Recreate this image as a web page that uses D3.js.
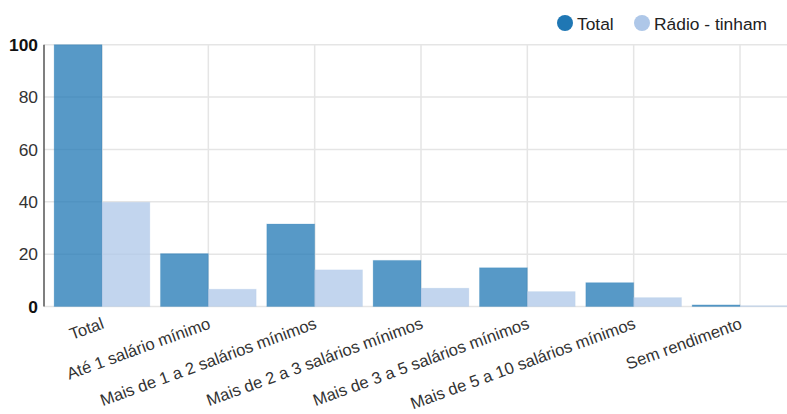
<!DOCTYPE html>
<html>
<head>
<meta charset="utf-8">
<script src="https://cdn.jsdelivr.net/npm/d3@7"></script>
<style>
  html, body { margin: 0; padding: 0; background: #fff; }
  svg { display: block; font-family: "Liberation Sans", Arial, sans-serif; }
</style>
</head>
<body>
<svg id="chart" width="787" height="414"></svg>
<script>
const categories = [
  "Total",
  "Até 1 salário mínimo",
  "Mais de 1 a 2 salários mínimos",
  "Mais de 2 a 3 salários mínimos",
  "Mais de 3 a 5 salários mínimos",
  "Mais de 5 a 10 salários mínimos",
  "Sem rendimento"
];
const seriesNames = ["Total", "Rádio - tinham"];
const totalValues = [100, 20.2, 31.5, 17.6, 14.8, 9.1, 0.6];
const radioValues = [39.8, 6.6, 14.0, 7.0, 5.7, 3.4, 0.3];
const yTicks = [0, 20, 40, 60, 80, 100];
const colors = ["#1f77b4", "#aec7e8"];

const W = 787, H = 414;
const svg = d3.select("#chart");

const x = d3.scaleBand().domain(categories).range([43.5, 798.5]).paddingInner(0.1).paddingOuter(0.1);
const xs = d3.scaleBand().domain(seriesNames).range([0, x.bandwidth()]).padding(0);
const y = d3.scaleLinear().domain([0, 100]).range([306.5, 44.7]);

const rows = categories.map((c, i) => ({ cat: c, vals: [totalValues[i], radioValues[i]] }));

// horizontal gridlines
svg.append("g").selectAll("line").data(yTicks).join("line")
  .attr("x1", 44).attr("x2", W)
  .attr("y1", d => y(d)).attr("y2", d => y(d))
  .attr("stroke", "#e5e5e5").attr("stroke-width", 1.5);

// vertical gridlines
svg.append("g").selectAll("line").data(categories).join("line")
  .attr("x1", d => x(d) + x.bandwidth() / 2).attr("x2", d => x(d) + x.bandwidth() / 2)
  .attr("y1", y(100)).attr("y2", y(0))
  .attr("stroke", "#e5e5e5").attr("stroke-width", 1.5);

// bars
const groups = svg.append("g").selectAll("g").data(rows).join("g")
  .attr("transform", d => `translate(${x(d.cat)},0)`);
groups.selectAll("rect").data(d => d.vals.map((v, k) => ({ v, k }))).join("rect")
  .attr("x", d => xs(seriesNames[d.k]))
  .attr("width", xs.bandwidth())
  .attr("y", d => y(d.v))
  .attr("height", d => y(0) - y(d.v))
  .attr("fill", d => colors[d.k])
  .attr("fill-opacity", 0.75)
  .attr("stroke", d => colors[d.k])
  .attr("stroke-opacity", 0.2)
  .attr("stroke-width", 1);

// y axis line
svg.append("line")
  .attr("x1", 44).attr("x2", 44).attr("y1", y(100)).attr("y2", y(0))
  .attr("stroke", "#555").attr("stroke-width", 1.5);

// y tick labels
svg.append("g").selectAll("text").data(yTicks).join("text")
  .attr("x", 38).attr("y", d => y(d))
  .attr("dy", "0.35em")
  .attr("text-anchor", "end")
  .attr("font-size", 17.4)
  .attr("font-weight", d => (d === 0 || d === 100) ? "bold" : "normal")
  .attr("fill", d => (d === 0 || d === 100) ? "#111" : "#333")
  .text(d => d);

// x tick labels
svg.append("g").selectAll("text").data(categories).join("text")
  .attr("transform", d => `translate(${x(d) + x.bandwidth() / 2 + 3},328) rotate(-20)`)
  .attr("text-anchor", "end")
  .attr("font-size", 16.6)
  .attr("fill", "#333")
  .text(d => d);

// legend
const legendItems = [
  { name: seriesNames[0], cx: 565, tx: 577 },
  { name: seriesNames[1], cx: 642, tx: 654 }
];
const lg = svg.append("g").selectAll("g").data(legendItems).join("g");
lg.append("circle")
  .attr("cx", d => d.cx).attr("cy", 23).attr("r", 8)
  .attr("fill", (d, i) => colors[i]);
lg.append("text")
  .attr("x", d => d.tx).attr("y", 29.5)
  .attr("font-size", 17.4)
  .attr("fill", "#222")
  .text(d => d.name);
</script>
</body>
</html>
